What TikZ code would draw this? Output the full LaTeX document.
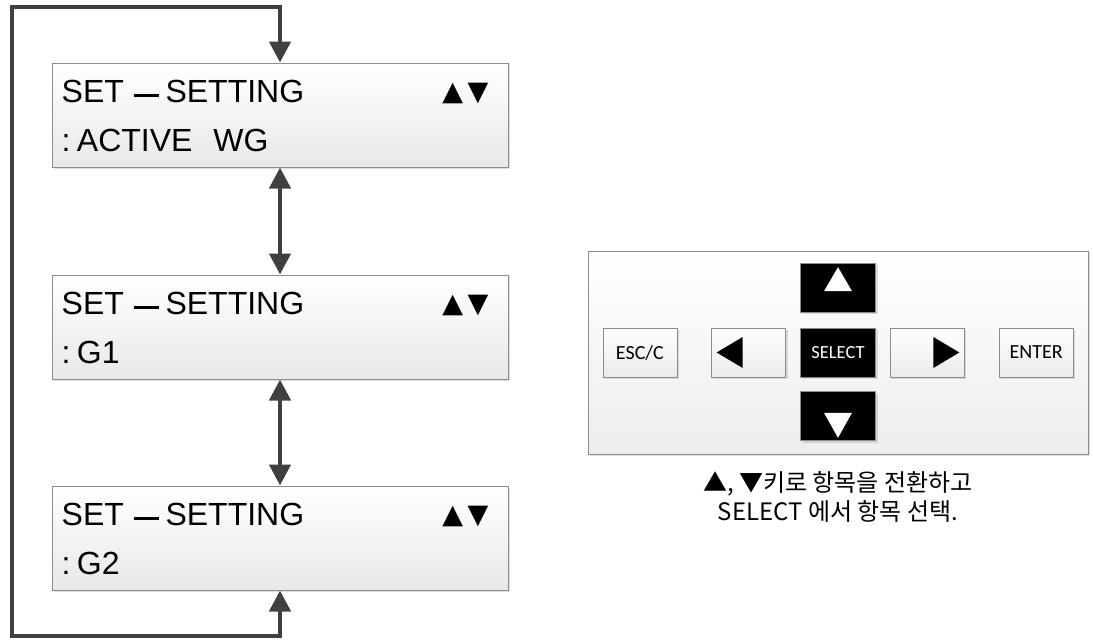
\documentclass[tikz,border=0pt]{standalone}
\usepackage{fontspec}
\setmainfont{Liberation Sans}
\newfontfamily\symfont{DejaVu Sans}
\newfontfamily\keyfont{Carlito}
\newfontfamily\korfont{Noto Sans CJK KR}
\usetikzlibrary{
    positioning,
    calc,
    arrows.meta,
    shadows,
}
\definecolor{flowgray}{HTML}{404040}
\definecolor{framegray}{HTML}{8C8C8C}
\newcommand{\lcddash}{\hspace{0.3em}\rule[0.17em]{0.8em}{0.09em}\hspace{0.2em}}
\newcommand{\lcdcolon}{:\hspace{0.2em}}
\tikzset{
    x=1pt, y=-1pt,
    >={Triangle[length=21pt,width=21pt]},
    softshadow/.style={drop shadow={shadow xshift=2pt, shadow yshift=-2pt, opacity=0.25}},
    screen/.style={rectangle, draw=framegray, line width=1pt, top color=white, bottom color=black!9, minimum width=456pt, minimum height=104pt, softshadow},
    lcdtext/.style={font=\fontsize{32}{32}\selectfont, inner sep=0pt},
    updowntext/.style={font=\symfont\fontsize{27}{27}\selectfont, inner sep=0pt},
    flow/.style={draw=flowgray, line width=4.5pt},
    panel/.style={rectangle, draw=framegray, line width=1pt, top color=white, bottom color=black!7, minimum width=500pt, minimum height=203pt, softshadow},
    keylight/.style={rectangle, draw=framegray, line width=0.8pt, top color=white, bottom color=black!8, minimum width=74pt, minimum height=49pt, font=\keyfont\fontsize{20}{20}\selectfont, softshadow},
    keydark/.style={rectangle, draw=framegray, line width=0.8pt, fill=black, text=white, minimum width=75pt, minimum height=49pt, font=\keyfont\fontsize{18.5}{18.5}\selectfont, softshadow},
    caption/.style={font=\korfont\fontsize{24}{29}\selectfont, align=center, inner sep=0pt},
}

\begin{document}
\begin{tikzpicture}
    \useasboundingbox (0,0) rectangle (1093,643);

    % screens
    \node[screen] (screen1) at (280,115) {};
    \node[screen, below=107pt of screen1] (screen2) {};
    \node[screen, below=106pt of screen2] (screen3) {};

    \node[lcdtext, anchor=base west] (title1) at ($(screen1.north west)+(10,40)$) {SET\lcddash SETTING};
    \node[updowntext, anchor=base east] (updown1) at ($(screen1.north east)+(-20,38)$) {▲\,▼};
    \node[lcdtext, anchor=base west] (value1) at ($(screen1.north west)+(10,89)$) {\lcdcolon ACTIVE\hspace{0.65em}WG};

    \node[lcdtext, anchor=base west] (title2) at ($(screen2.north west)+(10,40)$) {SET\lcddash SETTING};
    \node[updowntext, anchor=base east] (updown2) at ($(screen2.north east)+(-20,38)$) {▲\,▼};
    \node[lcdtext, anchor=base west] (value2) at ($(screen2.north west)+(10,89)$) {\lcdcolon G1};

    \node[lcdtext, anchor=base west] (title3) at ($(screen3.north west)+(10,40)$) {SET\lcddash SETTING};
    \node[updowntext, anchor=base east] (updown3) at ($(screen3.north east)+(-20,38)$) {▲\,▼};
    \node[lcdtext, anchor=base west] (value3) at ($(screen3.north west)+(10,89)$) {\lcdcolon G2};

    \coordinate (loopbl) at (12,636);
    \coordinate (looptl) at (12,7);

    % keypad
    \node[panel] (panel) at (838,352.5) {};
    \node[keydark] (selectkey) at (panel.center) {SELECT};
    \node[keydark, above=15pt of selectkey] (upkey) {};
    \node[keydark, below=14pt of selectkey] (downkey) {};
    \node[keylight, left=14pt of selectkey] (leftkey) {};
    \node[keylight, right=14pt of selectkey] (rightkey) {};
    \node[keylight, left=34pt of leftkey] (esckey) {ESC/C};
    \node[keylight, right=34pt of rightkey] (enterkey) {ENTER};

    \fill[white] ($(upkey.center)+(-14,3.5)$) -- ++(28,0) -- ++(-14,-24) -- cycle;
    \fill[white] ($(downkey.center)+(-14,-3.5)$) -- ++(28,0) -- ++(-14,25) -- cycle;
    \fill[black] ($(leftkey.center)+(-6,-15.5)$) -- ++(0,31) -- ++(-26,-15.5) -- cycle;
    \fill[black] ($(rightkey.center)+(6,-15.5)$) -- ++(0,31) -- ++(26,-15.5) -- cycle;

    \node[caption, below=17pt of panel] (hint) {▲, ▼키로 항목을 전환하고\\SELECT 에서 항목 선택.};

    % connections
    \draw[flow, <->] (screen1.south) -- (screen2.north);
    \draw[flow, <->] (screen2.south) -- (screen3.north);
    \draw[flow, <->] (screen3.south) |- (loopbl) -- (looptl) -| (screen1.north);

\end{tikzpicture}
\end{document}
